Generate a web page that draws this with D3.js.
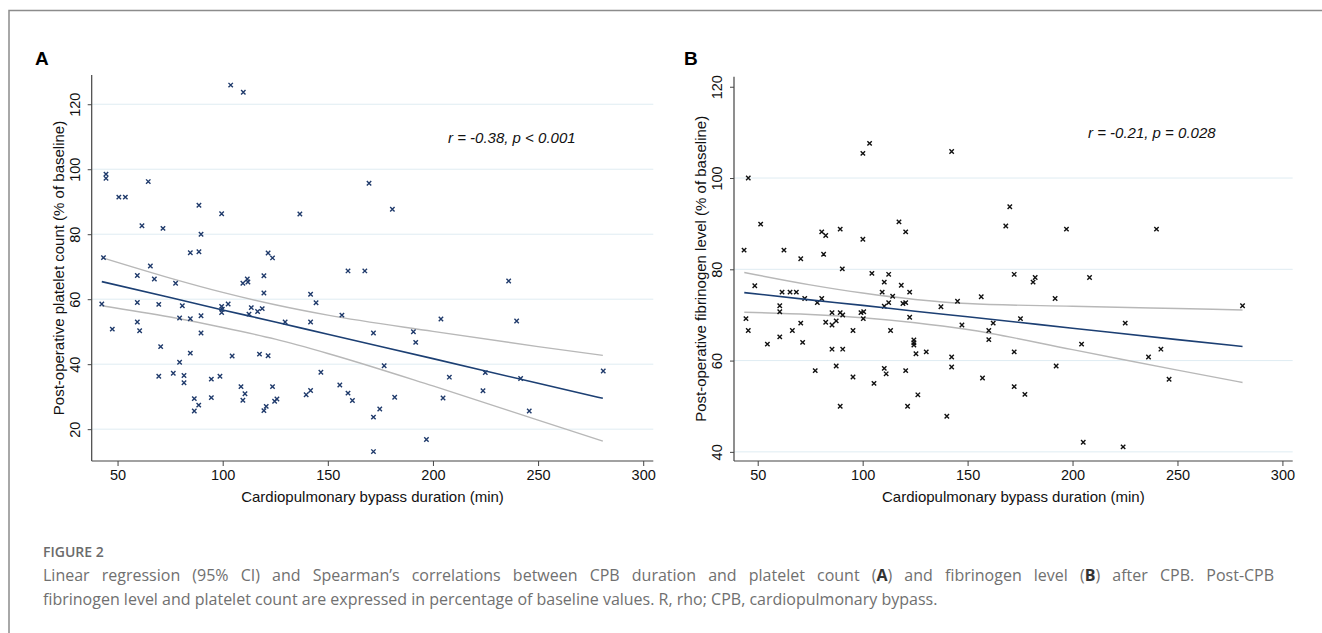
<!DOCTYPE html>
<html>
<head>
<meta charset="utf-8">
<script src="https://cdn.jsdelivr.net/npm/d3@7"></script>
<style>
  body { margin: 0; background: #fff; }
  svg text { font-family: "Liberation Sans", Arial, Helvetica, sans-serif; }
  .caption text { font-family: "Open Sans", sans-serif; }
</style>
</head>
<body>
<svg id="fig" width="1322" height="633"></svg>
<script>
// ---- panel A: platelet count vs CPB duration ----
const platDuration = [103.8, 109.8, 44.5, 44.5, 50.6, 53.7, 64.6, 61.6, 71.6, 88.7, 99.5, 89.7, 84.6, 88.7, 121.6, 123.7, 136.7, 43.3, 65.6,
  169.6, 180.7, 59.4, 67.5, 77.6, 109.6, 111.7, 112, 119.6, 119.6, 159.6, 42.5, 59.4, 69.6, 80.8, 99.5, 99.8, 99.5, 102.6, 112.5,
  113.6, 116.6, 118.8, 129.7, 141.8, 144.4, 141.8, 156.7, 59.4, 60.5, 47.5, 79.5, 84.6, 89.7, 89.7, 70.5, 84.6, 104.5, 117.5,
  121.6, 79.5, 69.6, 76.5, 81.6, 81.6, 94.6, 98.7, 146.7, 108.7, 123.7, 155.7, 110.6, 109.6, 94.6, 86.5, 88.6, 86.5, 120.7,
  119.6, 124.7, 125.8, 139.7, 141.8, 159.6, 161.7, 167.6, 236.0, 203.8, 239.8, 171.7, 190.7, 191.8, 176.8, 207.8, 224.9,
  241.7, 281, 181.8, 204.8, 223.8, 174.7, 171.7, 245.8, 196.9, 171.7];
const platCount = [125.9, 123.7, 98.5, 97.2, 91.4, 91.4, 96.2, 82.6, 81.8, 88.9, 86.3, 80.0, 74.3, 74.6, 74.2, 72.7, 86.2, 72.8, 70.2,
  95.7, 87.7, 67.3, 66.2, 64.9, 64.9, 66.2, 65.3, 67.2, 61.9, 68.7, 58.5, 59.0, 58.4, 58.0, 57.8, 56.9, 55.9, 58.5, 55.4,
  57.4, 56.2, 57.1, 53.0, 61.5, 58.9, 53.0, 55.1, 53.0, 50.3, 50.8, 54.2, 54.0, 54.9, 49.6, 45.4, 43.4, 42.5, 43.1,
  42.6, 40.6, 36.3, 37.2, 36.5, 34.3, 35.4, 36.3, 37.5, 33.1, 33.1, 33.6, 30.9, 28.9, 29.7, 29.4, 27.4, 25.6, 27.0,
  25.7, 28.6, 29.3, 30.6, 31.9, 31.1, 28.8, 68.7, 65.6, 53.9, 53.3, 49.6, 50.0, 46.7, 39.5, 36.0, 37.4,
  35.6, 37.9, 29.8, 29.6, 31.8, 26.2, 23.7, 25.6, 16.8, 13.1];
const platFitX = [42.5, 75, 100, 125, 150, 200, 250, 280.8];
const platFit = [65.4, 60.5, 56.7, 53.0, 49.2, 41.7, 34.1, 29.5];
const platUpper = [72.8, 66.5, 62.1, 58.3, 55.1, 50.1, 45.4, 42.7];
const platLower = [58.0, 54.5, 51.3, 47.7, 43.3, 33.3, 22.8, 16.3];

// ---- panel B: fibrinogen level vs CPB duration ----
const fibDuration = [45.5, 100.1, 103.3, 142.4, 51.4, 43.5, 62.5, 70.5, 80.5, 82.4, 81.4, 89.3, 100.1, 117.3, 120.5, 90.3,
  170.1, 168.2, 197.1, 240,
  104.4, 112.4, 110.3, 118.4, 48.6, 61.6, 65.4, 68.4, 109.3, 122.4, 72.4, 78.4, 80.5, 114.3, 112.4, 110.3, 119.2, 120.5,
  145.2, 156.5, 137.3, 60.5, 60.5, 44.4, 85.4, 89.3, 90.5, 99.2, 100.5, 100.3, 122.4, 70.5, 82.4, 87.4, 85.4, 45.5, 66.5,
  95.4, 113.3, 147.3, 162.2, 160.1, 160.1, 60.5, 71.4, 54.6, 124.4, 124.4, 124.4, 125.4, 130.3, 85.4, 90.5, 142.4, 142.4,
  77.4, 87.4, 110.3, 111.2, 120.5, 95.4, 157.1, 105.4, 126.3, 89.3, 121.4, 140.1,
  172.2, 182.2, 181.2, 208.1, 191.7, 281, 175.2, 225.1, 204.3, 172.2, 242.1, 236.2, 192.2, 172.2, 177.3, 246, 205.1, 224.1];
const fibLevel = [100.0, 105.4, 107.6, 105.8, 89.9, 84.2, 84.2, 82.3, 88.2, 87.4, 83.3, 88.8, 86.6, 90.4, 88.2, 80.1,
  93.7, 89.5, 88.8, 88.8,
  79.1, 78.9, 77.2, 76.5, 76.4, 75.0, 75.0, 75.0, 75.0, 75.0, 73.6, 72.7, 73.6, 74.1, 72.7, 71.9, 72.5, 72.7,
  73.0, 74.0, 71.8, 72.0, 70.7, 69.2, 70.5, 70.5, 70.0, 70.5, 70.7, 69.2, 69.5, 68.2, 68.4, 68.7, 67.8, 66.6, 66.6,
  66.6, 66.6, 67.8, 68.2, 66.6, 64.6, 65.2, 64.0, 63.6, 64.5, 63.9, 63.4, 61.5, 61.9, 62.5, 62.5, 60.8, 58.6,
  57.8, 58.8, 58.3, 57.1, 57.8, 56.4, 56.2, 55.0, 52.5, 50.0, 50.0, 47.8,
  78.9, 78.2, 77.2, 78.2, 73.6, 72.0, 69.2, 68.2, 63.6, 61.9, 62.5, 60.8, 58.8, 54.3, 52.6, 55.9, 42.1, 41.1];
const fibFitX = [43.6, 75, 100, 125, 150, 200, 250, 281];
const fibFit = [74.9, 73.3, 72.1, 70.8, 69.6, 67.1, 64.6, 63.1];
const fibUpper = [79.3, 76.6, 74.8, 73.4, 72.5, 71.9, 71.4, 71.1];
const fibLower = [70.6, 70.1, 69.4, 68.3, 66.8, 62.4, 57.9, 55.2];

const xTicks = [50, 100, 150, 200, 250, 300];

const svg = d3.select("#fig");

// figure frame (left + top rule)
svg.append("path")
  .attr("d", "M9,633 V10.5 H1322")
  .attr("fill", "none")
  .attr("stroke", "#8c8c8c")
  .attr("stroke-width", 1.5);

function drawPanel(p) {
  const x = d3.scaleLinear().domain(p.xDomain).range([p.left, p.right]);
  const y = d3.scaleLinear().domain(p.yDomain).range([p.bottom, p.top]);
  const g = svg.append("g");

  // grid
  g.selectAll(".grid")
    .data(p.grid)
    .enter()
    .append("line")
    .attr("x1", p.left).attr("x2", p.right)
    .attr("y1", d => y(d)).attr("y2", d => y(d))
    .attr("stroke", "#dfecf2")
    .attr("stroke-width", 1);

  // axes
  const xAxis = g.append("g")
    .attr("transform", `translate(0,${p.bottom})`)
    .call(d3.axisBottom(x).tickValues(xTicks).tickSize(5).tickPadding(4));
  const yAxis = g.append("g")
    .attr("transform", `translate(${p.left},0)`)
    .call(d3.axisLeft(y).tickValues(p.yTicks).tickSize(4));
  [xAxis, yAxis].forEach(a => {
    a.select(".domain").attr("stroke", "#444").attr("stroke-width", 1.2);
    a.selectAll(".tick line").attr("stroke", "#444");
    a.selectAll("text").attr("font-size", 14.5).attr("fill", "#111")
      .attr("font-family", "'Liberation Sans', Arial, sans-serif");
  });
  xAxis.select(".domain").attr("d", `M${p.left},0H${p.right}`);
  yAxis.select(".domain").attr("d", `M0,${p.bottom}V${p.top}`);
  yAxis.selectAll(".tick text")
    .attr("x", 0).attr("dy", 0)
    .attr("text-anchor", "middle")
    .attr("transform", "translate(-12,0) rotate(-90)");

  // CI band lines and fit
  const line = (vals) => d3.line()
    .x((d, i) => x(p.fitX[i]))
    .y(d => y(d))
    .curve(d3.curveMonotoneX)(vals);
  [p.upper, p.lower].forEach(v => {
    g.append("path").attr("d", line(v))
      .attr("fill", "none").attr("stroke", "#b8b8b8").attr("stroke-width", 1.4);
  });

  // points
  const s = 2.2;
  g.selectAll(".pt")
    .data(p.xs.map((d, i) => [d, p.ys[i]]))
    .enter()
    .append("path")
    .attr("d", d => {
      const cx = x(d[0]), cy = y(d[1]);
      return `M${cx - s},${cy - s}L${cx + s},${cy + s}M${cx - s},${cy + s}L${cx + s},${cy - s}`;
    })
    .attr("stroke", p.color)
    .attr("stroke-width", 1.4);

  g.append("path").attr("d", line(p.fit))
    .attr("fill", "none").attr("stroke", "#1c3f73").attr("stroke-width", 1.6);

  // texts
  g.append("text")
    .attr("x", p.left - 38).attr("y", 0)
    .attr("transform", `translate(${p.left - 28},${(p.top + p.bottom) / 2}) rotate(-90)`)
    .attr("x", 0)
    .attr("text-anchor", "middle")
    .attr("font-size", 15)
    .attr("fill", "#111")
    .text(p.yTitle);

  g.append("text")
    .attr("x", (p.left + p.right) / 2).attr("y", 502)
    .attr("text-anchor", "middle")
    .attr("font-size", 15)
    .attr("fill", "#111")
    .text("Cardiopulmonary bypass duration (min)");

  g.append("text")
    .attr("x", p.noteX).attr("y", p.noteY)
    .attr("font-size", 15)
    .attr("font-style", "italic")
    .attr("fill", "#111")
    .text(p.note);

  g.append("text")
    .attr("x", p.letterX).attr("y", 65)
    .attr("font-size", 19)
    .attr("font-weight", "bold")
    .attr("fill", "#000")
    .text(p.letter);
}

drawPanel({
  letter: "A", letterX: 35,
  left: 91.7, right: 653.3, top: 75, bottom: 461,
  xDomain: [37.7, 304.8], yDomain: [10.2, 129],
  yTicks: [20, 40, 60, 80, 100, 120], grid: [20, 40, 60, 80, 100, 120],
  xs: platDuration, ys: platCount, color: "#1f3a6b",
  fitX: platFitX, fit: platFit, upper: platUpper, lower: platLower,
  yTitle: "Post-operative platelet count (% of baseline)",
  note: "r = -0.38, p < 0.001", noteX: 448, noteY: 143
});

drawPanel({
  letter: "B", letterX: 684,
  left: 734, right: 1292.7, top: 76.7, bottom: 461,
  xDomain: [38.7, 304.9], yDomain: [38, 122.2],
  yTicks: [40, 60, 80, 100, 120], grid: [40, 60, 80, 100],
  xs: fibDuration, ys: fibLevel, color: "#111",
  fitX: fibFitX, fit: fibFit, upper: fibUpper, lower: fibLower,
  yTitle: "Post-operative fibrinogen level (% of baseline)",
  note: "r = -0.21, p = 0.028", noteX: 1088, noteY: 138
});

// caption
const cap = svg.append("g").attr("class", "caption");
cap.append("text")
  .attr("x", 43).attr("y", 557)
  .attr("font-size", 14)
  .attr("font-weight", 600)
  .attr("fill", "#6b6b6b")
  .text("FIGURE 2");

const line1 = cap.append("text")
  .attr("x", 43).attr("y", 581)
  .attr("font-size", 16)
  .attr("fill", "#707070");
[["Linear regression (95% CI) and Spearman\u2019s correlations between CPB duration and platelet count (", false],
 ["A", true], [") and fibrinogen level (", false], ["B", true],
 [") after CPB. Post-CPB", false]].forEach(([t, b]) => {
  line1.append("tspan").attr("font-weight", b ? "bold" : null).attr("fill", b ? "#333" : null).text(t);
});
// justify line 1
const target = 1290 - 43;
const words = 22;
const len = line1.node().getComputedTextLength();
if (len < target) line1.attr("word-spacing", (target - len) / words);

cap.append("text")
  .attr("x", 43).attr("y", 605)
  .attr("font-size", 16)
  .attr("fill", "#707070")
  .text("fibrinogen level and platelet count are expressed in percentage of baseline values. R, rho; CPB, cardiopulmonary bypass.");
</script>
</body>
</html>
